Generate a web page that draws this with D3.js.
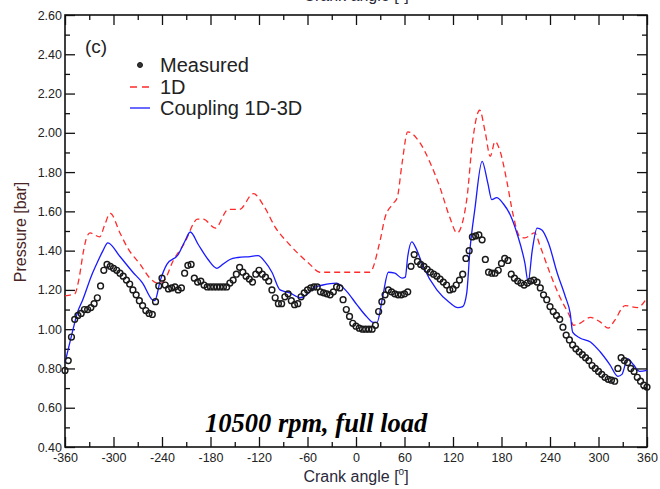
<!DOCTYPE html>
<html>
<head>
<meta charset="utf-8">
<script src="https://cdn.jsdelivr.net/npm/d3@7"></script>
<style>
  html, body { margin: 0; padding: 0; background: #fff; }
  svg { display: block; }
  .tick text { font-family: "Liberation Sans", Arial, sans-serif; font-size: 12.5px; fill: #222; }
</style>
</head>
<body>
<svg id="chart" width="660" height="489"></svg>
<script>
// Crank-angle axis ticks and pressure axis ticks
const xMajorTicks = [-360, -300, -240, -180, -120, -60, 0, 60, 120, 180, 240, 300, 360];
const xMinorTicks = [-330, -270, -210, -150, -90, -30, 30, 90, 150, 210, 270, 330];
const yMajorTicks = [0.4, 0.6, 0.8, 1.0, 1.2, 1.4, 1.6, 1.8, 2.0, 2.2, 2.4, 2.6];
const yMinorTicks = [0.5, 0.7, 0.9, 1.1, 1.3, 1.5, 1.7, 1.9, 2.1, 2.3, 2.5];

// Measured pressure, sampled every 4 degrees from -360 to 360
const measuredAngle = d3.range(-360, 361, 4);
const measuredPressure = [
  0.79, 0.84, 0.96, 1.05, 1.07, 1.08, 1.10, 1.10, 1.11, 1.13,
  1.16, 1.22, 1.30, 1.33, 1.32, 1.31, 1.30, 1.285, 1.27, 1.25,
  1.23, 1.20, 1.175, 1.145, 1.12, 1.095, 1.08, 1.075, 1.14, 1.22,
  1.26, 1.225, 1.205, 1.21, 1.215, 1.20, 1.21, 1.285, 1.325, 1.33,
  1.26, 1.24, 1.245, 1.225, 1.215, 1.215, 1.215, 1.215, 1.215, 1.215,
  1.215, 1.235, 1.25, 1.28, 1.315, 1.29, 1.27, 1.255, 1.24, 1.28,
  1.30, 1.28, 1.265, 1.245, 1.20, 1.16, 1.13, 1.13, 1.165, 1.18,
  1.145, 1.125, 1.13, 1.165, 1.185, 1.20, 1.21, 1.215, 1.215, 1.19,
  1.185, 1.18, 1.175, 1.19, 1.215, 1.21, 1.15, 1.10, 1.065, 1.03,
  1.015, 1.005, 1.0, 1.0, 1.0, 1.0, 1.02, 1.09, 1.14, 1.175,
  1.20, 1.19, 1.18, 1.175, 1.175, 1.18, 1.19, 1.32, 1.38, 1.345,
  1.33, 1.32, 1.305, 1.29, 1.28, 1.27, 1.255, 1.24, 1.225, 1.20,
  1.205, 1.225, 1.25, 1.28, 1.36, 1.40, 1.47, 1.475, 1.48, 1.455,
  1.355, 1.29, 1.285, 1.285, 1.30, 1.335, 1.36, 1.35, 1.28, 1.26,
  1.245, 1.235, 1.225, 1.235, 1.245, 1.25, 1.24, 1.21, 1.175, 1.15,
  1.115, 1.09, 1.07, 1.05, 1.01, 0.97, 0.945, 0.92, 0.90, 0.885,
  0.87, 0.855, 0.84, 0.815, 0.80, 0.785, 0.77, 0.755, 0.745, 0.74,
  0.735, 0.80, 0.855, 0.84, 0.83, 0.80, 0.785, 0.755, 0.735, 0.715,
  0.705
];

// 1D simulation
const oneDAngle = [
  -360, -348, -343, -337, -333, -329, -317, -311, -304, -292,
  -282, -267, -255, -246, -239, -226, -212, -196, -189, -174,
  -158, -144, -127, -113, -100, -82, -57, -45, -11, 17,
  30, 36, 46, 51, 57, 64, 79, 92, 104, 116,
  125, 137, 144, 153, 160, 166, 172, 178, 187, 194,
  203, 209, 221, 228, 240, 252, 265, 269, 277, 290,
  302, 312, 320, 333, 348, 360
];
const oneDPressure = [
  1.17, 1.18, 1.25, 1.40, 1.47, 1.49, 1.47, 1.53, 1.59, 1.49,
  1.41, 1.33, 1.26, 1.235, 1.24, 1.35, 1.44, 1.56, 1.56, 1.515,
  1.61, 1.61, 1.69, 1.62, 1.52, 1.43, 1.33, 1.29, 1.29, 1.29,
  1.455, 1.57, 1.64, 1.67, 1.845, 2.005, 1.95, 1.845, 1.72, 1.57,
  1.49, 1.66, 1.95, 2.115, 2.0, 1.88, 1.955, 1.91, 1.745, 1.59,
  1.47, 1.465, 1.49, 1.42, 1.285, 1.165, 1.06, 1.02, 1.03, 1.06,
  1.037, 1.005, 1.045, 1.12, 1.11, 1.16
];

// Coupled 1D-3D simulation
const couplingAngle = [
  -360, -350, -345, -338, -327, -320, -313, -307, -292, -276,
  -264, -252, -249, -242, -234, -220, -212, -205, -195, -183,
  -172, -165, -156, -146, -131, -121, -113, -104, -94, -82,
  -69, -61, -53, -41, -24, -11, 1, 14, 21, 26,
  33, 40, 48, 57, 61, 64, 69, 75, 83, 100,
  116, 126, 132, 137, 141, 147, 156, 163, 168, 174,
  182, 191, 199, 209, 213, 218, 224, 230, 238, 249,
  259, 265, 268, 277, 290, 302, 314, 324, 329, 336,
  343, 351, 360
];
const couplingPressure = [
  0.83, 1.0, 1.08, 1.15, 1.275, 1.34, 1.40, 1.44, 1.37, 1.29,
  1.235, 1.15, 1.145, 1.25, 1.33, 1.38, 1.445, 1.495, 1.43, 1.355,
  1.31, 1.33, 1.355, 1.365, 1.37, 1.375, 1.345, 1.29, 1.20, 1.185,
  1.16, 1.175, 1.21, 1.225, 1.235, 1.19, 1.125, 1.06, 1.035, 1.035,
  1.165, 1.29, 1.285, 1.26, 1.265, 1.37, 1.445, 1.405, 1.32, 1.20,
  1.135, 1.11, 1.115, 1.185, 1.405, 1.61, 1.855, 1.745, 1.66, 1.67,
  1.64, 1.58, 1.49, 1.335, 1.24, 1.40, 1.515, 1.505, 1.44, 1.285,
  1.165, 1.08, 0.985, 0.955, 0.935, 0.885, 0.82, 0.76, 0.77, 0.85,
  0.82, 0.785, 0.79
];

const legendLabels = ["Measured", "1D", "Coupling 1D-3D"];
const panelTag = "(c)";
const conditionText = "10500 rpm, full load";

const svg = d3.select("#chart");
const W = 660, H = 489;
const m = { left: 65, right: 13, top: 15, bottom: 42 };

const x = d3.scaleLinear().domain([-360, 360]).range([m.left, W - m.right]);
const y = d3.scaleLinear().domain([0.4, 2.6]).range([H - m.bottom, m.top]);

const font = '"Liberation Sans", Arial, sans-serif';

// Axes: inward ticks on all four sides
function strip(g) { g.select(".domain").remove(); g.selectAll(".tick line").attr("stroke", "#111").attr("stroke-width", 1.3); }

svg.append("g").attr("transform", `translate(0,${y(0.4)})`)
  .call(d3.axisBottom(x).tickValues(xMajorTicks).tickSize(-10).tickPadding(6).tickFormat(d => String(d)))
  .call(strip);
svg.append("g").attr("transform", `translate(0,${y(0.4)})`)
  .call(d3.axisBottom(x).tickValues(xMinorTicks).tickSize(-5).tickFormat(""))
  .call(strip);
svg.append("g").attr("transform", `translate(0,${y(2.6)})`)
  .call(d3.axisTop(x).tickValues(xMajorTicks).tickSize(-10).tickFormat(""))
  .call(strip);
svg.append("g").attr("transform", `translate(0,${y(2.6)})`)
  .call(d3.axisTop(x).tickValues(xMinorTicks).tickSize(-5).tickFormat(""))
  .call(strip);
svg.append("g").attr("transform", `translate(${x(-360)},0)`)
  .call(d3.axisLeft(y).tickValues(yMajorTicks).tickSize(-10).tickPadding(3).tickFormat(d3.format(".2f")))
  .call(strip);
svg.append("g").attr("transform", `translate(${x(-360)},0)`)
  .call(d3.axisLeft(y).tickValues(yMinorTicks).tickSize(-5).tickFormat(""))
  .call(strip);
svg.append("g").attr("transform", `translate(${x(360)},0)`)
  .call(d3.axisRight(y).tickValues(yMajorTicks).tickSize(-10).tickFormat(""))
  .call(strip);
svg.append("g").attr("transform", `translate(${x(360)},0)`)
  .call(d3.axisRight(y).tickValues(yMinorTicks).tickSize(-5).tickFormat(""))
  .call(strip);

// Plot frame
svg.append("rect")
  .attr("x", x(-360)).attr("y", y(2.6))
  .attr("width", x(360) - x(-360)).attr("height", y(0.4) - y(2.6))
  .attr("fill", "none").attr("stroke", "#111").attr("stroke-width", 1.6);

// Simulated curves
const line = d3.line().x(d => x(d[0])).y(d => y(d[1])).curve(d3.curveMonotoneX);

svg.append("path")
  .datum(oneDAngle.map((a, i) => [a, oneDPressure[i]]))
  .attr("d", line)
  .attr("fill", "none").attr("stroke", "#ff2a2a").attr("stroke-width", 1.3)
  .attr("stroke-dasharray", "6,4");

svg.append("path")
  .datum(couplingAngle.map((a, i) => [a, couplingPressure[i]]))
  .attr("d", line)
  .attr("fill", "none").attr("stroke", "#1a1aff").attr("stroke-width", 1.3);

// Measured points
svg.append("g").selectAll("circle")
  .data(measuredAngle.map((a, i) => [a, measuredPressure[i]]))
  .join("circle")
  .attr("cx", d => x(d[0])).attr("cy", d => y(d[1])).attr("r", 2.9)
  .attr("fill", "none").attr("stroke", "#1a1a1a").attr("stroke-width", 1.45);

// Panel tag and legend
svg.append("text").attr("x", 85).attr("y", 53)
  .attr("font-family", font).attr("font-size", 19).attr("fill", "#222").text(panelTag);

const lg = svg.append("g");
const rowY = [65, 87, 108];
lg.append("circle").attr("cx", 140).attr("cy", rowY[0]).attr("r", 2.5)
  .attr("fill", "#333").attr("stroke", "#1a1a1a").attr("stroke-width", 1);
lg.append("line").attr("x1", 130).attr("x2", 150).attr("y1", rowY[1]).attr("y2", rowY[1])
  .attr("stroke", "#ff2a2a").attr("stroke-width", 1.3).attr("stroke-dasharray", "7,5");
lg.append("line").attr("x1", 130).attr("x2", 150).attr("y1", rowY[2]).attr("y2", rowY[2])
  .attr("stroke", "#1a1aff").attr("stroke-width", 1.3);
legendLabels.forEach((t, i) => {
  lg.append("text").attr("x", 160).attr("y", rowY[i] + 7)
    .attr("font-family", font).attr("font-size", 20).attr("fill", "#222").text(t);
});

// Operating condition
svg.append("text").attr("x", 205).attr("y", 432)
  .attr("font-family", '"Liberation Serif", "Times New Roman", serif')
  .attr("font-size", 26.5).attr("font-weight", "bold").attr("font-style", "italic")
  .attr("fill", "#000").text(conditionText);

// Axis titles (the upper one belongs to the panel above and runs off the top edge)
function crankTitle(yPos) {
  const t = svg.append("text").attr("x", x(0)).attr("y", yPos).attr("text-anchor", "middle")
    .attr("font-family", font).attr("font-size", 16).attr("fill", "#2a2a3a");
  t.append("tspan").text("Crank angle [");
  t.append("tspan").attr("font-size", 10).attr("dy", -7).text("o");
  t.append("tspan").attr("dy", 7).text("]");
}
crankTitle(482);
crankTitle(0.5);

svg.append("text")
  .attr("transform", `translate(26,${(y(0.4) + y(2.6)) / 2 + 1}) rotate(-90)`)
  .attr("text-anchor", "middle")
  .attr("font-family", font).attr("font-size", 16).attr("fill", "#4a2525")
  .text("Pressure [bar]");
</script>
</body>
</html>
